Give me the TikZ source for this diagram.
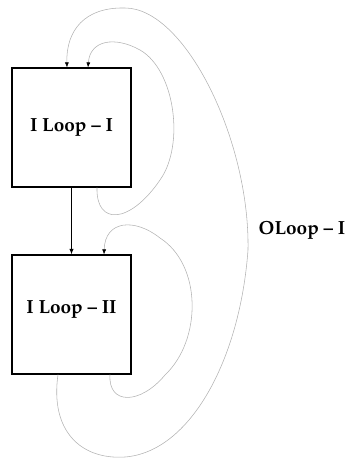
\documentclass[tikz,border=0pt]{standalone}
\usepackage[T1]{fontenc}
\usepackage{mathpazo}
\usetikzlibrary{arrows.meta,calc}

\begin{document}
\begin{tikzpicture}[x=1pt,y=1pt,
  loopbox/.style={draw,line width=1.2pt,minimum size=119pt,inner sep=0pt,
    font=\fontsize{19}{22}\selectfont\bfseries},
  fb/.style={draw=gray!60,line width=0.55pt,-{Latex[black,length=5pt,width=4pt]}}]
 \useasboundingbox (0,0) rectangle (350,459);
 \node[loopbox] (b1) at (71.5,331.5) {I Loop -- I};
 \node[loopbox,label={[yshift=5pt,font=\fontsize{19}{22}\selectfont\bfseries]center:I Loop -- II}] (b2) at (71.5,144.5) {};
 \node[font=\fontsize{19}{22}\selectfont\bfseries] (ol) at (302,229) {OLoop -- I};
 \draw[line width=1pt,-{Latex[length=5.5pt,width=4.5pt]}] (b1.south) -- (b2.north);
 % inner loops
 \draw[fb] ($(b1.south)+(25.5,0)$) .. controls (96,233) and (130,235) .. (160,279)
   .. controls (185,314) and (175,389) .. (140,409)
   .. controls (115,423) and (90,419) .. ($(b1.north)+(16.5,0)$);
 \draw[fb] ($(b2.south)+(38.5,0)$) .. controls (108,54) and (140,54) .. (165,84)
   .. controls (202,119) and (202,194) .. (160,221)
   .. controls (135,241) and (105,239) .. ($(b2.north)+(32.5,0)$);
 % outer loop
 \draw[fb] ($(b2.south)+(-13.5,0)$) .. controls (50,29) and (80,-1) .. (125,2)
   .. controls (190,7) and (240,99) .. (248,209)
   .. controls (250,319) and (185,451) .. (125,451)
   .. controls (85,452) and (66,429) .. ($(b1.north)+(-4.5,0)$);
\end{tikzpicture}
\end{document}
